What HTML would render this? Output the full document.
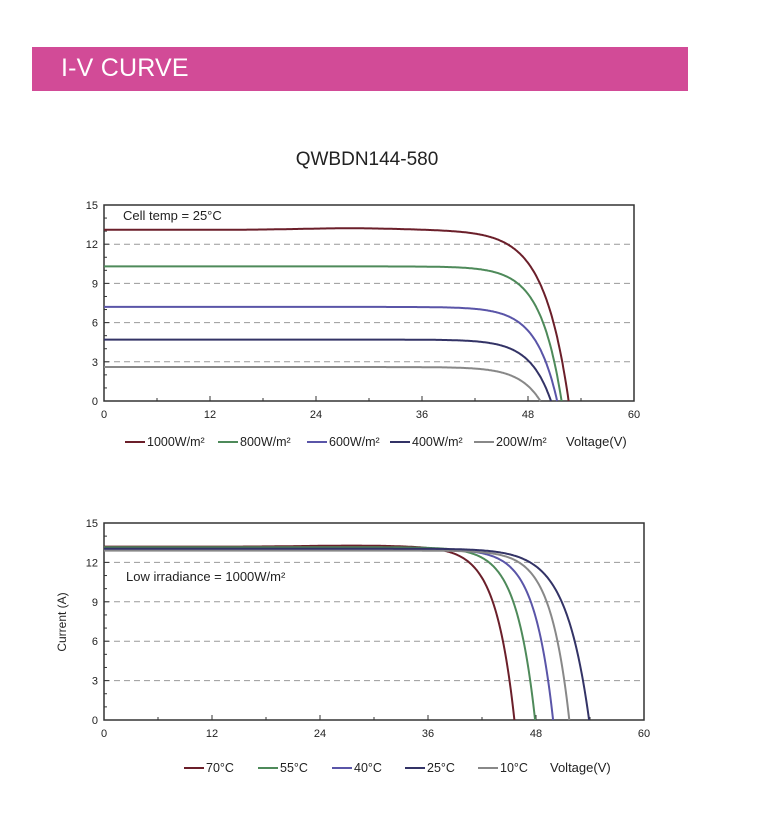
<!DOCTYPE html>
<html><head><meta charset="utf-8"><style>
html,body{margin:0;padding:0;background:#fff;width:775px;height:832px;overflow:hidden;font-family:"Liberation Sans",sans-serif}
.bar{position:absolute;left:32px;top:47px;width:656px;height:44px;background:#d24b97}
.bar span{position:absolute;left:29px;top:7px;color:#fff;font-size:25px;letter-spacing:0.2px}
svg{position:absolute;left:0;top:0}
svg text{font-family:"Liberation Sans",sans-serif;fill:#222}
</style></head><body>
<div class="bar"><span>I-V CURVE</span></div>
<svg id="s" width="775" height="832" xmlns="http://www.w3.org/2000/svg">
<text x="367" y="165" font-size="19" text-anchor="middle" fill="#333">QWBDN144-580</text>
</svg>
<script>
var s=document.getElementById('s'),NS='http://www.w3.org/2000/svg';
function el(t,a,txt){var e=document.createElementNS(NS,t);for(var k in a)e.setAttribute(k,a[k]);if(txt)e.textContent=txt;s.appendChild(e);return e;}
function chart(L,R,T,B,curves,a,labelXs,legend,legY,legText){
 var sx=(R-L)/60,sy=(B-T)/15;
 for(var i=1;i<5;i++){var y=B-i*3*sy;el('line',{x1:L,x2:R,y1:y,y2:y,stroke:'#999','stroke-width':1,'stroke-dasharray':'6,4'});}
 el('rect',{x:L,y:T,width:R-L,height:B-T,fill:'none',stroke:'#333','stroke-width':1.5});
 for(var i=0;i<=15;i++){var y=B-i*sy;el('line',{x1:L,x2:L+(i%3==0?5:3),y1:y,y2:y,stroke:'#333'});}
 for(var v=0;v<=60;v+=6){var x=L+v*sx;el('line',{x1:x,x2:x,y1:B,y2:B-(v%12==0?5:3),stroke:'#333'});}
 for(var i=0;i<=5;i++){el('text',{x:L-6,y:B-i*3*sy+4,'font-size':11,'text-anchor':'end'},String(i*3));}
 for(var i=0;i<=5;i++){el('text',{x:L+i*12*sx,y:B+17,'font-size':11,'text-anchor':'middle'},String(i*12));}
 curves.forEach(function(c){var aa=c.a||a;var d='';for(var v=0;v<=c.voc;v+=0.1){var hump=c.h?c.h*Math.exp(-Math.pow((v-28)/8,2)):0;var I=(c.isc+hump)*(1-Math.exp((v-c.voc)/aa));if(I<0)I=0;d+=(d?'L':'M')+(L+v*sx).toFixed(1)+','+(B-I*sy).toFixed(1);}
  d+='L'+(L+c.voc*sx).toFixed(1)+','+B;el('path',{d:d,fill:'none',stroke:c.col,'stroke-width':2});});
 legend.forEach(function(g){el('line',{x1:g.x,x2:g.x+20,y1:legY-4,y2:legY-4,stroke:g.col,'stroke-width':2});el('text',{x:g.x+22,y:legY,'font-size':12.5},g.t);});
 el('text',{x:legText[0],y:legY,'font-size':13},'Voltage(V)');
}
var C=['#6b1f2a','#4e8a5a','#5a55a8','#333366','#888888'];
chart(104,634,205,401,[{isc:13.1,voc:52.6,col:C[0],h:0.12,a:2.8},{isc:10.3,voc:51.8,col:C[1]},{isc:7.2,voc:51.3,col:C[2]},{isc:4.7,voc:50.6,col:C[3]},{isc:2.6,voc:49.4,col:C[4]}],2.4,null,
 [{x:125,col:C[0],t:'1000W/m²'},{x:218,col:C[1],t:'800W/m²'},{x:307,col:C[2],t:'600W/m²'},{x:390,col:C[3],t:'400W/m²'},{x:474,col:C[4],t:'200W/m²'}],446,[566]);
el('text',{x:123,y:220,'font-size':13},'Cell temp = 25°C');
chart(104,644,523,720,[{isc:13.2,voc:45.6,col:C[0],h:0.08},{isc:13.15,voc:47.9,col:C[1]},{isc:13.0,voc:49.9,col:C[2]},{isc:12.9,voc:51.7,col:C[4]},{isc:13.05,voc:53.9,col:C[3],a:2.6}],2.1,null,
 [{x:184,col:C[0],t:'70°C'},{x:258,col:C[1],t:'55°C'},{x:332,col:C[2],t:'40°C'},{x:405,col:C[3],t:'25°C'},{x:478,col:C[4],t:'10°C'}],772,[550]);
el('text',{x:126,y:581,'font-size':13},'Low irradiance = 1000W/m²');
el('text',{x:66,y:622,'font-size':12,'text-anchor':'middle',transform:'rotate(-90 66 622)'},'Current (A)');
</script>
</body></html>
